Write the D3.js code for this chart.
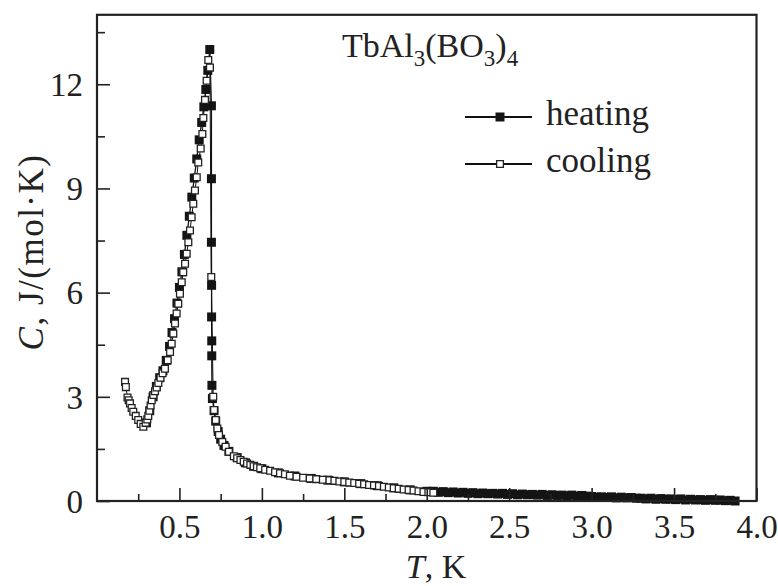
<!DOCTYPE html>
<html>
<head>
<meta charset="utf-8">
<script src="https://cdn.jsdelivr.net/npm/d3@7"></script>
<style>
  html, body { margin: 0; padding: 0; background: #fff; }
  svg { display: block; }
  text { font-family: "Liberation Serif", "Times New Roman", serif; fill: #222; }
</style>
</head>
<body>
<svg id="chart" width="778" height="586"></svg>
<script>
// Specific heat of TbAl3(BO3)4, heating and cooling runs.
// Temperature (K) and heat capacity C (J/(mol·K)).

// heating run
const heatT = [0.30, 0.32, 0.34, 0.36, 0.38, 0.40, 0.42, 0.44, 0.455, 0.47, 0.485, 0.50, 0.515, 0.53,
  0.545, 0.56, 0.575, 0.59, 0.605, 0.62, 0.635, 0.648, 0.66, 0.672, 0.684,
  0.694, 0.694, 0.694, 0.695, 0.695, 0.696, 0.696, 0.697, 0.70,
  0.71, 0.72, 0.735, 0.75, 0.77, 0.80, 0.85, 0.90, 0.95, 1.00, 1.10, 1.20, 1.30, 1.40, 1.50, 1.60,
  1.70, 1.80, 1.90, 2.00,
  2.04, 2.07, 2.10, 2.13, 2.16, 2.19, 2.22, 2.25, 2.28, 2.31, 2.34, 2.37, 2.40, 2.43, 2.46, 2.49,
  2.52, 2.55, 2.58, 2.61, 2.64, 2.67, 2.70, 2.73, 2.76, 2.79, 2.82, 2.85, 2.88, 2.91, 2.94, 2.97,
  3.00, 3.03, 3.06, 3.09, 3.12, 3.15, 3.18, 3.21, 3.24, 3.27, 3.30, 3.33, 3.36, 3.39, 3.42, 3.45,
  3.48, 3.51, 3.54, 3.57, 3.60, 3.63, 3.66, 3.69, 3.72, 3.75, 3.78, 3.81, 3.84, 3.87];
const heatC = [2.25, 2.60, 3.00, 3.30, 3.55, 3.75, 4.05, 4.45, 4.85, 5.25, 5.70, 6.15, 6.60, 7.10,
  7.65, 8.20, 8.75, 9.30, 9.85, 10.40, 10.90, 11.35, 11.85, 12.40, 13.00,
  11.38, 9.28, 7.45, 6.21, 5.30, 4.61, 4.18, 3.33, 2.95,
  2.60, 2.30, 2.00, 1.78, 1.60, 1.43, 1.25, 1.10, 1.00, 0.93, 0.81, 0.72, 0.65, 0.60, 0.55, 0.50,
  0.44, 0.38, 0.32, 0.28,
  0.28, 0.25, 0.27, 0.24, 0.26, 0.23, 0.25, 0.22, 0.24, 0.21, 0.23, 0.21, 0.22, 0.20, 0.22, 0.19,
  0.21, 0.18, 0.20, 0.18, 0.19, 0.17, 0.19, 0.16, 0.18, 0.16, 0.17, 0.15, 0.17, 0.14, 0.16, 0.14,
  0.13, 0.11, 0.12, 0.10, 0.12, 0.09, 0.11, 0.09, 0.10, 0.08, 0.08, 0.06, 0.08, 0.05, 0.07, 0.05,
  0.06, 0.04, 0.06, 0.03, 0.05, 0.03, 0.04, 0.02, 0.04, 0.02, 0.03, 0.01, 0.02, 0.00];

// cooling run
const coolT = [0.170, 0.175, 0.185, 0.192, 0.200, 0.210, 0.220, 0.235, 0.250, 0.265, 0.281,
  0.295, 0.305, 0.311, 0.318, 0.325, 0.332, 0.342, 0.352, 0.362, 0.372, 0.385, 0.398, 0.412,
  0.429, 0.443, 0.453, 0.463, 0.473, 0.483, 0.493, 0.503, 0.514, 0.523, 0.534, 0.544, 0.554,
  0.564, 0.574, 0.584, 0.594, 0.605, 0.614, 0.629, 0.639, 0.645, 0.655, 0.665, 0.675, 0.685,
  0.693, 0.705, 0.710, 0.720, 0.730, 0.740, 0.760, 0.780, 0.800, 0.830, 0.850, 0.870, 0.890,
  0.910, 0.930, 0.950, 0.970, 0.990, 1.020, 1.050, 1.080, 1.110, 1.140, 1.170, 1.210, 1.250,
  1.290, 1.330, 1.370, 1.410, 1.440, 1.470, 1.500, 1.530, 1.560, 1.590, 1.620, 1.650, 1.680,
  1.710, 1.740, 1.770, 1.800, 1.830, 1.860, 1.890, 1.920, 1.950, 1.980, 2.010, 2.040];
const coolC = [3.43, 3.28, 2.98, 2.90, 2.81, 2.68, 2.57, 2.45, 2.33, 2.22, 2.14,
  2.25, 2.35, 2.45, 2.60, 2.75, 2.90, 3.05, 3.16, 3.27, 3.40, 3.55, 3.68, 3.81,
  4.05, 4.29, 4.53, 4.82, 5.11, 5.40, 5.68, 5.97, 6.30, 6.59, 6.83, 7.12, 7.45,
  7.79, 8.17, 8.56, 8.94, 9.32, 9.75, 10.15, 10.57, 11.03, 11.55, 12.10, 12.70, 12.48,
  6.45, 3.00, 2.62, 2.33, 2.09, 1.90, 1.70, 1.56, 1.42, 1.29, 1.23, 1.18, 1.13,
  1.08, 1.04, 1.00, 0.97, 0.94, 0.90, 0.87, 0.83, 0.80, 0.77, 0.73, 0.70, 0.67,
  0.65, 0.63, 0.61, 0.60, 0.58, 0.56, 0.55, 0.53, 0.52, 0.50, 0.48, 0.46, 0.45,
  0.43, 0.41, 0.39, 0.37, 0.35, 0.33, 0.32, 0.30, 0.28, 0.26, 0.25, 0.24];

// axis ticks
const xMajor = [0.5, 1.0, 1.5, 2.0, 2.5, 3.0, 3.5, 4.0];
const xMinor = [0.25, 0.75, 1.25, 1.75, 2.25, 2.75, 3.25, 3.75];
const yMajor = [0, 3, 6, 9, 12];
const yMinor = [1.5, 4.5, 7.5, 10.5, 13.5];

const seriesNames = ["heating", "cooling"];

const svg = d3.select("#chart");
const plotLeft = 97, plotRight = 756.5, plotTop = 14.8, plotBottom = 501;

const x = d3.scaleLinear().domain([0, 4]).range([plotLeft, plotRight]);
const y = d3.scaleLinear().domain([0, 14]).range([plotBottom, plotTop]);

const heating = heatT.map((t, i) => ({ t, c: heatC[i] }));
const cooling = coolT.map((t, i) => ({ t, c: coolC[i] }));

const line = d3.line().x(d => x(d.t)).y(d => y(d.c));
const sqFilled = d3.symbol().type(d3.symbolSquare).size(81);
const sqOpen = d3.symbol().type(d3.symbolSquare).size(46);

// curves: heating underneath, cooling on top
const plot = svg.append("g");
plot.append("path").datum(heating).attr("d", line)
  .attr("fill", "none").attr("stroke", "#111").attr("stroke-width", 1.3);
plot.selectAll(".h").data(heating).join("path").attr("class", "h")
  .attr("d", sqFilled).attr("transform", d => `translate(${x(d.t)},${y(d.c)})`)
  .attr("fill", "#141414");
plot.append("path").datum(cooling).attr("d", line)
  .attr("fill", "none").attr("stroke", "#111").attr("stroke-width", 1);
plot.selectAll(".c").data(cooling).join("path").attr("class", "c")
  .attr("d", sqOpen)
  .attr("transform", d => `translate(${x(d.t)},${y(d.c)})`)
  .attr("fill", "#fff").attr("stroke", "#222").attr("stroke-width", 1.3);

// axes with inward ticks
const axisFont = 33;
svg.append("g").attr("transform", `translate(0,${plotBottom})`)
  .call(d3.axisBottom(x).tickValues(xMajor).tickSize(-13).tickPadding(14).tickFormat(d3.format(".1f")));
svg.append("g").attr("transform", `translate(0,${plotBottom})`)
  .call(d3.axisBottom(x).tickValues(xMinor).tickSize(-7).tickFormat(""));
const gy = svg.append("g").attr("transform", `translate(${plotLeft},0)`)
  .call(d3.axisLeft(y).tickValues(yMajor).tickSize(-13).tickPadding(14).tickFormat(d3.format("d")));
svg.append("g").attr("transform", `translate(${plotLeft},0)`)
  .call(d3.axisLeft(y).tickValues(yMinor).tickSize(-8).tickFormat(""));

svg.selectAll(".domain").remove();
svg.selectAll(".tick line").attr("stroke", "#222").attr("stroke-width", 1.6);
svg.selectAll(".tick text").attr("font-size", axisFont)
  .attr("font-family", "Liberation Serif").attr("fill", "#333");
gy.selectAll(".tick text").attr("dy", "0.34em");

// frame
svg.append("rect").attr("x", plotLeft).attr("y", plotTop)
  .attr("width", plotRight - plotLeft).attr("height", plotBottom - plotTop)
  .attr("fill", "none").attr("stroke", "#222").attr("stroke-width", 2.2);

// axis titles
const xt = svg.append("text").attr("x", 436).attr("y", 578)
  .attr("text-anchor", "middle").attr("font-size", 34);
xt.append("tspan").attr("font-style", "italic").text("T");
xt.append("tspan").text(", K");

const yt = svg.append("text").attr("transform", "translate(43,252) rotate(-90)")
  .attr("text-anchor", "middle").attr("font-size", 35).attr("letter-spacing", 1.5);
yt.append("tspan").attr("font-style", "italic").text("C");
yt.append("tspan").text(", J/(mol·K)");

// compound name
const ttl = svg.append("text").attr("x", 342).attr("y", 57).attr("font-size", 34);
ttl.append("tspan").text("TbAl");
ttl.append("tspan").attr("font-size", 23).attr("dy", 9).text("3");
ttl.append("tspan").attr("dy", -9).text("(BO");
ttl.append("tspan").attr("font-size", 23).attr("dy", 9).text("3");
ttl.append("tspan").attr("dy", -9).text(")");
ttl.append("tspan").attr("font-size", 23).attr("dy", 9).text("4");

// legend
const legY = [117, 164];
seriesNames.forEach((name, i) => {
  const g = svg.append("g");
  g.append("line").attr("x1", 465).attr("x2", 532).attr("y1", legY[i]).attr("y2", legY[i])
    .attr("stroke", "#111").attr("stroke-width", 1.8);
  g.append("path").attr("d", i === 0 ? sqFilled : sqOpen)
    .attr("transform", `translate(500,${legY[i]})`)
    .attr("fill", i === 0 ? "#141414" : "#fff").attr("stroke", "#222").attr("stroke-width", i === 0 ? 0 : 1.3);
  g.append("text").attr("x", 546).attr("y", legY[i] + 8).attr("font-size", 35).text(name);
});
</script>
</body>
</html>
